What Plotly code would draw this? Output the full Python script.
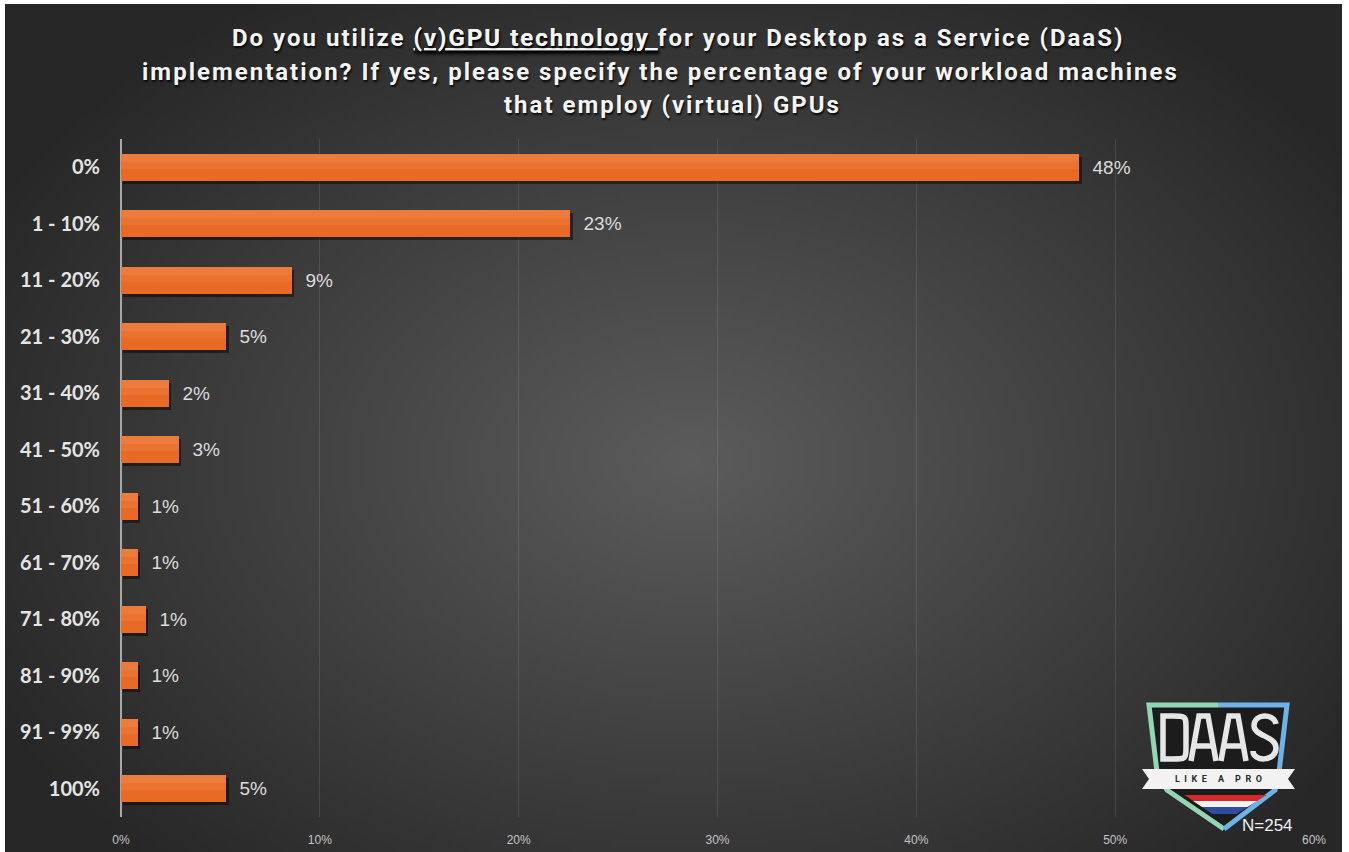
import base64
import struct
import zlib

import numpy as np
import plotly.graph_objects as go

# ---- data -------------------------------------------------------------
categories = ["0%", "1 - 10%", "11 - 20%", "21 - 30%", "31 - 40%", "41 - 50%",
              "51 - 60%", "61 - 70%", "71 - 80%", "81 - 90%", "91 - 99%", "100%"]
share_pct = [48.2, 22.6, 8.6, 5.3, 2.4, 2.9, 0.85, 0.85, 1.25, 0.85, 0.85, 5.3]
x_ticks = [0, 10, 20, 30, 40, 50, 60]
x_tick_labels = ["0%", "10%", "20%", "30%", "40%", "50%", "60%"]
title_lines = [
    'Do you utilize <span style="text-decoration:underline">(v)GPU technology </span>'
    'for your Desktop as a Service (DaaS)',
    "implementation? If yes, please specify the percentage of your workload machines",
    "that employ (virtual) GPUs",
]
sample_note = "N=254"

# ---- canvas geometry (pixels) ------------------------------------------
W, H = 1349, 852
ML, MR, MT, MB = 121, 35, 139, 35
PW, PH = W - ML - MR, H - MT - MB


def px(x):
    return (x - ML) / PW


def py(y):
    return (H - MB - y) / PH


def pt(x, y):
    return f"{px(x):.5f},{py(y):.5f}"


def path(points, close=True):
    s = "M " + " L ".join(pt(x, y) for x, y in points)
    return s + (" Z" if close else "")


# ---- radial grey background rendered to a small PNG ---------------------
def png_uri(rgb):
    h, w, _ = rgb.shape
    raw = b"".join(b"\x00" + rgb[r].tobytes() for r in range(h))

    def chunk(tag, data):
        c = struct.pack(">I", len(data)) + tag + data
        return c + struct.pack(">I", zlib.crc32(tag + data) & 0xFFFFFFFF)

    png = (b"\x89PNG\r\n\x1a\n"
           + chunk(b"IHDR", struct.pack(">IIBBBBB", w, h, 8, 2, 0, 0, 0))
           + chunk(b"IDAT", zlib.compress(raw, 9))
           + chunk(b"IEND", b""))
    return "data:image/png;base64," + base64.b64encode(png).decode()


bg_x0, bg_y0, bg_x1, bg_y1 = 5, 4, 1342, 852
gw, gh = 268, 170
gx = np.linspace(bg_x0, bg_x1, gw)
gy = np.linspace(bg_y0, bg_y1, gh)
XX, YY = np.meshgrid(gx, gy)
t = np.sqrt(((XX - 690) / 800) ** 2 + ((YY - 460) / 560) ** 2)
v = 39 + 53 * (1 - np.clip(t, 0, 1))
bg = np.clip(v, 0, 255).astype(np.uint8)
bg_rgb = np.stack([bg, bg, bg], axis=-1)

# ---- bars ---------------------------------------------------------------
BAR_W = 0.48
fig = go.Figure()

# soft drop shadow under each bar
fig.add_trace(go.Bar(
    y=categories, x=share_pct, orientation="h", base=0.12,
    width=BAR_W, offset=-BAR_W / 2 + 0.05,
    marker=dict(color="rgba(0,0,0,0.45)", line=dict(width=0)),
    hoverinfo="skip", showlegend=False,
))
# main orange bars with value labels
fig.add_trace(go.Bar(
    y=categories, x=share_pct, orientation="h",
    width=BAR_W, offset=-BAR_W / 2,
    marker=dict(color="#e96a25", line=dict(width=0)),
    texttemplate="\u00a0\u00a0%{x:.0f}%", textposition="outside",
    textfont=dict(family="Liberation Sans, Arial, sans-serif", size=19, color="#dcdcdc"),
    cliponaxis=False, showlegend=False,
))
# lighter upper bands for a soft vertical gradient
for frac, alpha in [(0.55, 0.10), (0.30, 0.10)]:
    fig.add_trace(go.Bar(
        y=categories, x=share_pct, orientation="h",
        width=BAR_W * frac, offset=-BAR_W / 2,
        marker=dict(color=f"rgba(255,200,160,{alpha})", line=dict(width=0)),
        hoverinfo="skip", showlegend=False,
    ))

# ---- logo shapes ----------------------------------------------------------
shapes = []


def add_shape(d, fill=None, color=None, width=0):
    shp = dict(type="path", xref="paper", yref="paper", path=d, layer="above",
               line=dict(width=width, color=color) if width else dict(width=0))
    if fill:
        shp["fillcolor"] = fill
    shapes.append(shp)


TIP = (1224, 829)
shield = [(1147, 703), (1289, 703), (1281, 772), (1277, 790), TIP,
          (1165, 790), (1155, 772)]
add_shape(path(shield), fill="#1c1c1c")
add_shape(path([(1218, 705), (1149, 705), (1157, 772), (1167, 790), TIP], False),
          color="#92d6b4", width=5)
add_shape(path([(1218, 705), (1287, 705), (1279, 772), (1275, 790), TIP], False),
          color="#6fb2e6", width=5)
add_shape(path([(1142, 769), (1295, 769), (1288, 779), (1295, 789),
                (1142, 789), (1149, 779)]), fill="#f2f2f2")


def vx(y):
    return 1183 + (y - 794) * (41 / 28), 1268 - (y - 794) * (44 / 28)


for (ya, yb), col in zip([(795, 801), (801, 807), (807, 814)],
                         ["#d42a2a", "#f2f2f2", "#2d4e9e"]):
    la, ra = vx(ya)
    lb, rb = vx(yb)
    add_shape(path([(la, ya), (ra, ya), (rb, yb), (lb, yb)]), fill=col)

# condensed "DAAS" lettering drawn as strokes
LET = "#e6e6e6"
SW = 5.5
top, bot = 716, 759
# D
add_shape(f"M {pt(1163, top)} L {pt(1172, top)} C {pt(1186, top)} {pt(1186, top)} {pt(1186, 729)} "
          f"L {pt(1186, 746)} C {pt(1186, bot)} {pt(1186, bot)} {pt(1172, bot)} L {pt(1163, bot)} Z",
          color=LET, width=SW)
# A, A
for ox in (1190, 1220):
    add_shape(f"M {pt(ox + 1, bot + 2)} L {pt(ox + 9, top)} L {pt(ox + 18, top)} L {pt(ox + 26, bot + 2)}",
              color=LET, width=SW)
    add_shape(f"M {pt(ox + 6, 746)} L {pt(ox + 21, 746)}", color=LET, width=SW)
# S
add_shape(f"M {pt(1276, 724)} C {pt(1274, 713)} {pt(1254, 713)} {pt(1254, 726)} "
          f"C {pt(1254, 736)} {pt(1276, 736)} {pt(1276, 748)} "
          f"C {pt(1276, 762)} {pt(1253, 762)} {pt(1253, 751)}",
          color=LET, width=SW)

# ---- annotations --------------------------------------------------------
annotations = []
title_pos = [(678, 38), (660, 72), (672, 105)]
for line, (xc, yc) in zip(title_lines, title_pos):
    annotations.append(dict(
        text=f'<span style="letter-spacing:2px">{line}</span>',
        xref="paper", yref="paper", x=px(xc), y=py(yc),
        xanchor="center", yanchor="middle", showarrow=False,
        font=dict(family="Roboto, Liberation Sans, sans-serif", size=24,
                  color="#f4f4f4", weight="bold",
                  shadow="1px 2px 2px rgba(0,0,0,0.85)"),
    ))

annotations.append(dict(
    text="L  I  K  E     A     P  R  O", xref="paper", yref="paper", x=px(1218), y=py(779),
    xanchor="center", yanchor="middle", showarrow=False,
    font=dict(family="Roboto, sans-serif", size=9, color="#2a2a2a", weight="bold"),
))
annotations.append(dict(
    text=sample_note, xref="paper", yref="paper", x=px(1267), y=py(826),
    xanchor="center", yanchor="middle", showarrow=False,
    font=dict(family="Liberation Sans, Arial, sans-serif", size=17, color="#f0f0f0"),
))

fig.update_layout(
    width=W, height=H,
    margin=dict(l=ML, r=MR, t=MT, b=MB, pad=0, autoexpand=False),
    paper_bgcolor="#ffffff", plot_bgcolor="rgba(0,0,0,0)",
    barmode="overlay", bargap=0,
    images=[dict(source=png_uri(bg_rgb), xref="paper", yref="paper",
                 x=px(bg_x0), y=py(bg_y0), sizex=(bg_x1 - bg_x0) / PW,
                 sizey=(bg_y1 - bg_y0) / PH, sizing="stretch",
                 xanchor="left", yanchor="top", layer="below")],
    shapes=shapes, annotations=annotations,
    xaxis=dict(range=[0, 60], tickvals=x_ticks, ticktext=x_tick_labels,
               automargin=False,
               showgrid=True, gridcolor="rgba(255,255,255,0.10)", gridwidth=1,
               zeroline=True, zerolinecolor="#a8a8a8", zerolinewidth=1.5,
               showline=False, ticks="", ticklabelstandoff=14,
               tickfont=dict(family="Liberation Sans, Arial, sans-serif", size=12,
                             color="#c4c4c4"),
               fixedrange=True),
    yaxis=dict(type="category", categoryorder="array", categoryarray=categories,
               automargin=False,
               range=[11.5, -0.5], showgrid=False, zeroline=False, showline=False,
               ticks="", ticklabelstandoff=20,
               tickfont=dict(family="Lato, Liberation Sans, sans-serif", size=20,
                             color="#e4e4e4", weight="bold"),
               fixedrange=True),
    showlegend=False,
)

fig.write_html("out.html")
